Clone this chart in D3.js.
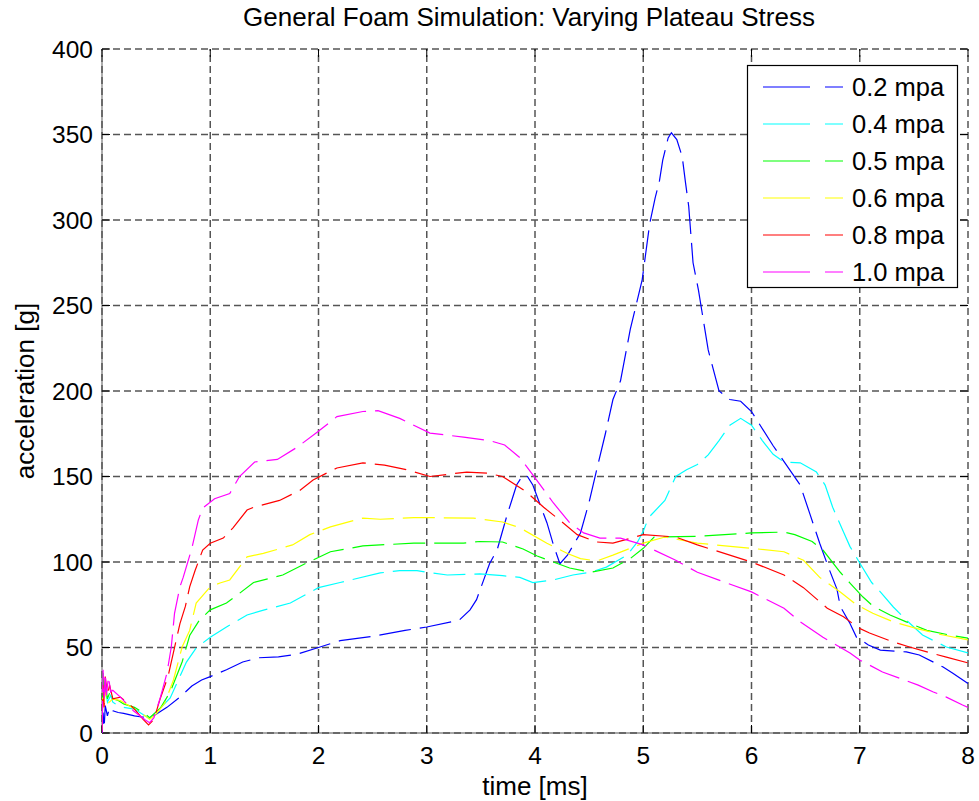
<!DOCTYPE html>
<html>
<head>
<meta charset="utf-8">
<script src="https://cdn.jsdelivr.net/npm/d3@7"></script>
<style>
  html, body { margin: 0; padding: 0; background: #fff; }
  svg text { font-family: "Liberation Sans", Arial, sans-serif; fill: #000; }
</style>
</head>
<body>
<svg id="chart" width="979" height="801"></svg>
<script>
// Foam model acceleration traces, [time ms, acceleration g]
const s02 = [[0,0],[0.01,12],[0.02,3],[0.03,16],[0.05,10],[0.07,15],[0.1,13],[0.15,12],[0.2,11.5],[0.3,10],[0.35,9.5],[0.44,9],[0.5,11],[0.6,15],[0.72,21],[0.83,27.5],[0.92,31],[1.0,33],[1.15,37],[1.3,41.5],[1.45,44],[1.63,44.5],[1.8,46],[2.0,50],[2.2,54],[2.5,56.5],[2.8,60],[3.0,62],[3.3,66],[3.4,72],[3.46,78],[3.58,99],[3.65,107],[3.74,127],[3.79,137],[3.83,145],[3.89,151],[3.93,150],[3.98,145],[4.05,133],[4.11,123],[4.17,110],[4.23,99],[4.3,104],[4.42,117],[4.5,135],[4.57,154],[4.65,175],[4.72,195],[4.79,206],[4.88,236],[4.99,265],[5.06,298],[5.11,313],[5.15,323],[5.18,335],[5.23,348],[5.26,351],[5.31,347],[5.36,337],[5.39,322],[5.42,308],[5.46,275],[5.51,259],[5.6,224],[5.7,200],[5.8,195],[5.9,194],[6.0,188],[6.2,168],[6.45,145],[6.54,128],[6.63,111],[6.71,97],[6.79,84],[6.82,74],[6.91,64],[6.97,56],[7.08,51.5],[7.19,48.5],[7.43,47.4],[7.55,45.6],[7.77,38.6],[7.86,35],[8.0,29]];
const s04 = [[0,2],[0.01,30],[0.02,20],[0.03,28],[0.05,18],[0.08,22],[0.1,18],[0.15,16],[0.2,15],[0.3,14],[0.4,10],[0.44,8.5],[0.5,12],[0.63,20.5],[0.78,41.5],[0.87,49.7],[1.0,56],[1.15,62],[1.34,69],[1.5,72],[1.74,76],[2.0,85],[2.2,88],[2.57,93.6],[2.75,95],[2.91,95],[3.0,94],[3.19,92.4],[3.49,93],[3.7,92],[3.86,91],[3.98,88],[4.17,89.5],[4.35,92.4],[4.51,94],[4.66,97],[4.85,104],[4.95,112],[5.0,118],[5.05,126],[5.2,136],[5.3,150],[5.4,154],[5.5,157],[5.6,162.6],[5.7,171],[5.8,180],[5.9,184],[6.0,180],[6.1,171],[6.2,163],[6.3,158.5],[6.45,158],[6.6,152.6],[6.68,145],[6.75,132],[6.85,117.5],[6.91,109],[7.0,99.4],[7.11,88],[7.19,82.5],[7.31,73.7],[7.43,66],[7.58,57.3],[7.8,50.3],[8.0,46.8]];
const s05 = [[0,3],[0.01,35],[0.02,22],[0.03,30],[0.05,20],[0.08,25],[0.1,20],[0.15,19],[0.2,17],[0.3,15],[0.4,11],[0.44,9],[0.54,14.6],[0.63,24],[0.74,41.5],[0.81,57],[0.9,66],[1.0,72],[1.15,76],[1.25,80.7],[1.4,88],[1.67,92.4],[1.89,99.4],[2.11,106],[2.41,109.4],[2.57,110],[2.88,111],[3.34,111],[3.49,112],[3.7,111.7],[3.89,107.6],[4.02,103.5],[4.32,96.5],[4.51,94],[4.72,96.5],[4.88,102],[5.0,108],[5.1,114.6],[5.5,115],[6.0,117],[6.3,117.5],[6.4,116],[6.56,112],[6.66,107],[6.82,94],[6.91,87.7],[7.03,79.5],[7.12,74.3],[7.28,69],[7.43,65],[7.62,60],[7.83,57.3],[8.0,55.5]];
const s06 = [[0,2],[0.01,27],[0.02,18],[0.03,24],[0.05,17],[0.1,20],[0.17,19],[0.3,14],[0.4,10],[0.44,8],[0.5,11],[0.58,17.5],[0.66,31],[0.74,50.3],[0.81,60],[0.87,76],[1.0,85.5],[1.09,87.7],[1.18,89.5],[1.34,103],[1.49,105],[1.76,110],[1.92,116],[2.11,120.5],[2.41,125.7],[2.57,125],[2.88,126],[3.43,125.7],[3.7,123.4],[3.86,120],[4.11,111],[4.3,105],[4.42,102],[4.57,100.6],[4.72,104],[4.88,108],[5.0,111],[5.2,114.6],[5.5,111],[6.0,108],[6.3,106],[6.48,101],[6.63,91],[6.82,82.5],[6.97,75],[7.12,70],[7.31,65],[7.53,61],[7.77,57.3],[8.0,54.4]];
const s08 = [[0,1],[0.01,28],[0.02,15],[0.03,33],[0.05,22],[0.07,28],[0.1,20],[0.17,21],[0.25,17],[0.3,14],[0.38,8],[0.43,4.7],[0.48,8],[0.54,20.5],[0.61,33],[0.69,55.5],[0.72,64],[0.77,74],[0.81,85.5],[0.86,95],[0.93,107],[1.0,111],[1.12,114],[1.21,120],[1.34,130.4],[1.4,132],[1.64,136],[1.83,142],[1.95,148],[2.17,155],[2.41,158],[2.61,156.7],[2.81,154],[3.03,150],[3.37,152.6],[3.56,152],[3.7,150],[3.92,141],[4.08,132],[4.25,123.4],[4.39,116],[4.57,111.7],[4.72,111],[5.0,116],[5.3,114.6],[5.5,110],[6.0,100],[6.3,92.4],[6.48,85],[6.7,73],[6.85,68],[6.99,61.4],[7.09,58.5],[7.31,53.2],[7.46,50.3],[7.62,47.4],[7.8,44.4],[8.0,41]];
const s10 = [[0,0],[0.01,37],[0.02,20],[0.03,35],[0.04,22],[0.06,33],[0.08,24],[0.1,25],[0.17,21],[0.29,13],[0.4,7.6],[0.44,6],[0.48,9],[0.54,21],[0.6,35],[0.64,50.3],[0.67,70],[0.72,85.5],[0.75,91],[0.83,108],[0.89,124.6],[0.93,131.5],[1.04,137],[1.18,140],[1.27,150],[1.41,158.5],[1.62,160],[1.8,167],[1.99,176],[2.17,185],[2.41,188],[2.55,188.5],[2.75,184],[3.03,175.4],[3.34,173],[3.58,171],[3.72,168.4],[3.86,161],[3.98,151],[4.17,134.5],[4.32,123],[4.45,117],[4.6,114],[4.79,114],[5.0,110],[5.3,101],[5.5,94],[6.0,82.5],[6.3,73],[6.45,65],[6.66,56],[6.91,46.8],[7.0,42.7],[7.21,35.7],[7.37,32],[7.54,28],[7.68,24],[7.8,21],[7.95,16.4],[8.0,15]];

const seriesNames = ["0.2 mpa", "0.4 mpa", "0.5 mpa", "0.6 mpa", "0.8 mpa", "1.0 mpa"];
const seriesColors = ["#0000ff", "#00ffff", "#00ff00", "#ffff00", "#ff0000", "#ff00ff"];
const seriesData = [s02, s04, s05, s06, s08, s10];
const xTicks = [0, 1, 2, 3, 4, 5, 6, 7, 8];
const yTicks = [0, 50, 100, 150, 200, 250, 300, 350, 400];

const titleText = "General Foam Simulation: Varying Plateau Stress";
const xLabel = "time [ms]";
const yLabel = "acceleration [g]";

const svg = d3.select("#chart");
const plotL = 102, plotR = 968, plotT = 49, plotB = 733;

const x = d3.scaleLinear().domain([0, 8]).range([plotL, plotR]);
const y = d3.scaleLinear().domain([0, 400]).range([plotB, plotT]);

// base axis lines (left and bottom)
svg.append("line").attr("x1", plotL).attr("x2", plotL).attr("y1", plotT).attr("y2", plotB)
  .attr("stroke", "#8a8a8a").attr("stroke-width", 1.4);
svg.append("line").attr("x1", plotL).attr("x2", plotR).attr("y1", plotB).attr("y2", plotB)
  .attr("stroke", "#8a8a8a").attr("stroke-width", 1.4);

// dashed grid
const grid = svg.append("g").attr("stroke", "#555").attr("stroke-width", 1.5)
  .attr("stroke-dasharray", "7,4");
grid.selectAll(".gx").data(xTicks).join("line")
  .attr("x1", d => x(d)).attr("x2", d => x(d)).attr("y1", plotB).attr("y2", plotT);
grid.selectAll(".gy").data(yTicks).join("line")
  .attr("x1", plotL).attr("x2", plotR).attr("y1", d => y(d)).attr("y2", d => y(d));

// inward tick marks on all four sides
const tickLen = 8;
const ticks = svg.append("g").attr("stroke", "#000").attr("stroke-width", 1);
xTicks.forEach(d => {
  ticks.append("line").attr("x1", x(d)).attr("x2", x(d)).attr("y1", plotB).attr("y2", plotB - tickLen);
  ticks.append("line").attr("x1", x(d)).attr("x2", x(d)).attr("y1", plotT).attr("y2", plotT + tickLen);
});
yTicks.forEach(d => {
  ticks.append("line").attr("x1", plotL).attr("x2", plotL + tickLen).attr("y1", y(d)).attr("y2", y(d));
  ticks.append("line").attr("x1", plotR).attr("x2", plotR - tickLen).attr("y1", y(d)).attr("y2", y(d));
});

// tick labels
svg.append("g").selectAll("text").data(xTicks).join("text")
  .attr("x", d => x(d)).attr("y", 764).attr("text-anchor", "middle")
  .attr("font-size", 24.5).text(d => d);
svg.append("g").selectAll("text").data(yTicks).join("text")
  .attr("x", 93).attr("y", d => y(d) + 8.5).attr("text-anchor", "end")
  .attr("font-size", 24.5).text(d => d);

// clip to plot area
svg.append("clipPath").attr("id", "plotClip").append("rect")
  .attr("x", plotL).attr("y", plotT).attr("width", plotR - plotL).attr("height", plotB - plotT);

const line = d3.line().x(d => x(d[0])).y(d => y(d[1]));
svg.append("g").attr("clip-path", "url(#plotClip)")
  .selectAll("path").data(seriesData).join("path")
  .attr("d", line)
  .attr("fill", "none")
  .attr("stroke", (d, i) => seriesColors[i])
  .attr("stroke-width", 1.2)
  .attr("stroke-dasharray", "32,9");

// title and axis labels
svg.append("text").attr("x", 529).attr("y", 26).attr("text-anchor", "middle")
  .attr("font-size", 26).text(titleText);
svg.append("text").attr("x", (plotL + plotR) / 2).attr("y", 795).attr("text-anchor", "middle")
  .attr("font-size", 26).text(xLabel);
svg.append("text").attr("transform", `translate(34,${(plotT + plotB) / 2}) rotate(-90)`)
  .attr("text-anchor", "middle").attr("font-size", 26).text(yLabel);

// legend
const lg = svg.append("g");
lg.append("rect").attr("x", 747.5).attr("y", 65.5).attr("width", 210).attr("height", 222)
  .attr("fill", "#fff").attr("stroke", "#000").attr("stroke-width", 1.2);
const rowY = i => 87 + i * 37;
lg.selectAll("line").data(seriesNames).join("line")
  .attr("x1", 763).attr("x2", 843)
  .attr("y1", (d, i) => rowY(i)).attr("y2", (d, i) => rowY(i))
  .attr("stroke", (d, i) => seriesColors[i]).attr("stroke-width", 1.2)
  .attr("stroke-dasharray", "47,15");
lg.selectAll("text").data(seriesNames).join("text")
  .attr("x", 852).attr("y", (d, i) => rowY(i) + 9)
  .attr("font-size", 25.5).text(d => d);
</script>
</body>
</html>
